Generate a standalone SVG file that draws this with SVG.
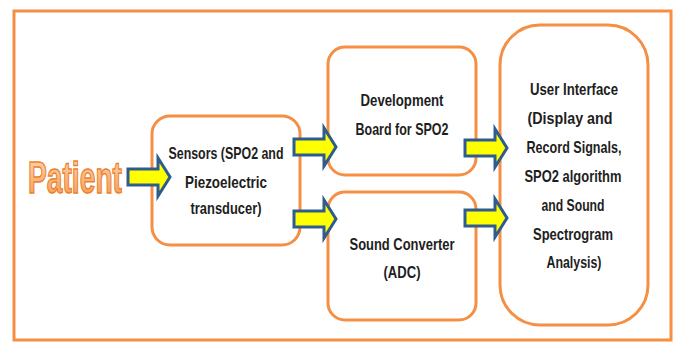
<svg xmlns="http://www.w3.org/2000/svg" xmlns:xlink="http://www.w3.org/1999/xlink" width="673" height="343" viewBox="0 0 673 343">
<style>
.box{fill:#fff;stroke:#F58F43;stroke-width:3}
.lbl{font-family:"Liberation Sans",Arial,sans-serif;font-weight:bold;font-size:16.5px;fill:#1e1e1e;text-anchor:middle}
.arr{fill:#FFFF00;stroke:#2F5C8F;stroke-width:3;stroke-linejoin:miter}
</style>
<defs>
<path id="arrow" class="arr" d="M0,-8 H30 V-19 L42,0 L30,19 V8 H0 Z"/>
<linearGradient id="pg" x1="0" y1="0" x2="0" y2="1">
<stop offset="0" stop-color="#FDDCBC"/>
<stop offset="1" stop-color="#F4964A"/>
</linearGradient>
</defs>
<rect x="14" y="11" width="657" height="329" fill="#fff" stroke="#F58F43" stroke-width="3"/>
<g id="patient">
<text x="28" y="193" textLength="94" lengthAdjust="spacingAndGlyphs" font-family="Liberation Sans,Arial,sans-serif" font-weight="bold" font-size="45" fill="url(#pg)" stroke="#EE7F2D" stroke-width="1.5">Patient</text>
</g>
<g id="sensors">
<rect class="box" x="152" y="116" width="148" height="129" rx="18"/>
<text class="lbl" x="226" y="159" textLength="115" lengthAdjust="spacingAndGlyphs">Sensors (SPO2 and</text>
<text class="lbl" x="226" y="188" textLength="82" lengthAdjust="spacingAndGlyphs">Piezoelectric</text>
<text class="lbl" x="226" y="214" textLength="71" lengthAdjust="spacingAndGlyphs">transducer)</text>
</g>
<g id="devboard">
<rect class="box" x="328" y="47" width="148" height="128" rx="17"/>
<text class="lbl" x="402" y="106" textLength="83" lengthAdjust="spacingAndGlyphs">Development</text>
<text class="lbl" x="402" y="135" textLength="93" lengthAdjust="spacingAndGlyphs">Board for SPO2</text>
</g>
<g id="soundconv">
<rect class="box" x="328" y="192" width="148" height="128" rx="17"/>
<text class="lbl" x="402" y="250" textLength="105" lengthAdjust="spacingAndGlyphs">Sound Converter</text>
<text class="lbl" x="402" y="278" textLength="37" lengthAdjust="spacingAndGlyphs">(ADC)</text>
</g>
<g id="ui">
<rect class="box" x="500" y="25" width="148" height="300" rx="40"/>
<text class="lbl" x="574" y="95" textLength="88" lengthAdjust="spacingAndGlyphs">User Interface</text>
<text class="lbl" x="570" y="124" textLength="85" lengthAdjust="spacingAndGlyphs">(Display and</text>
<text class="lbl" x="574" y="153" textLength="95" lengthAdjust="spacingAndGlyphs">Record Signals,</text>
<text class="lbl" x="573" y="182" textLength="97" lengthAdjust="spacingAndGlyphs">SPO2 algorithm</text>
<text class="lbl" x="573" y="211" textLength="63" lengthAdjust="spacingAndGlyphs">and Sound</text>
<text class="lbl" x="573" y="240" textLength="80" lengthAdjust="spacingAndGlyphs">Spectrogram</text>
<text class="lbl" x="574" y="268" textLength="55" lengthAdjust="spacingAndGlyphs">Analysis)</text>
</g>
<g id="connectors">
<use xlink:href="#arrow" transform="translate(128,177)"/>
<use xlink:href="#arrow" transform="translate(294,147)"/>
<use xlink:href="#arrow" transform="translate(294,219)"/>
<use xlink:href="#arrow" transform="translate(465,148)"/>
<use xlink:href="#arrow" transform="translate(465,218)"/>
</g>
</svg>
